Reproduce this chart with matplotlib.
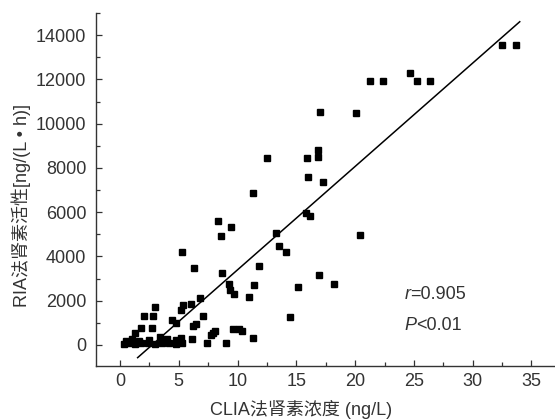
import numpy as np
import matplotlib.pyplot as plt
from matplotlib.ticker import MultipleLocator

plt.rcParams['font.family'] = ['Liberation Sans', 'Noto Sans CJK SC', 'DejaVu Sans']

# CLIA renin concentration (ng/L) vs RIA renin activity (ng/(L*h))
clia = [0.3, 0.8, 1.3, 1.8, 2.4, 3.0, 3.6, 4.2, 4.8, 5.3,
        0.5, 1.0, 1.6, 2.5, 3.4, 4.0, 4.8,
        1.3, 1.8, 2.7,
        2.0, 2.8, 3.0,
        4.4, 4.8, 5.2, 5.4, 6.0, 6.8, 7.1,
        6.2, 6.5, 6.1, 5.2,
        7.4, 7.7, 8.1, 7.9, 9.0, 9.6, 10.1, 10.4, 11.3,
        6.3, 5.3, 8.3, 9.4, 8.6, 8.7,
        9.3, 9.35, 9.7, 11.4, 11.0, 11.8,
        15.1, 14.5, 16.9, 18.2,
        11.3, 12.5, 13.3, 13.5, 14.1, 15.8, 16.2, 15.9, 16.8, 16.8,
        16.0, 17.3, 17.0, 20.1, 20.4,
        21.3, 22.4, 24.7, 25.3, 26.4, 32.5, 33.7]
ria = [50, 80, 60, 70, 90, 60, 80, 70, 60, 100,
       200, 250, 200, 230, 380, 280, 230,
       530, 750, 750,
       1300, 1300, 1700,
       1130, 980, 1580, 1800, 1850, 2100, 1330,
       850, 950, 250, 300,
       100, 430, 620, 520, 80, 700, 700, 630, 320,
       3490, 4190, 5600, 5350, 4940, 3270,
       2740, 2500, 2290, 2710, 2180, 3570,
       2600, 1250, 3160, 2750,
       6880, 8430, 5080, 4490, 4190, 5980, 5830, 8430, 8810, 8510,
       7600, 7380, 10510, 10480, 4970,
       11930, 11930, 12300, 11930, 11930, 13550, 13550]

# regression line
fit_slope = 467.0
fit_intercept = -1273.0
fit_x = [1.5, 34.0]

x_ticks = [0, 5, 10, 15, 20, 25, 30, 35]
y_ticks = [0, 2000, 4000, 6000, 8000, 10000, 12000, 14000]

fs = 13
tc = '#333333'

fig = plt.figure(figsize=(5.55, 4.19), dpi=100)
ax = fig.add_axes([0.173, 0.1265, 0.827, 0.8425])

ax.plot(clia, ria, ls='', marker='s', ms=5, color='black')
fx = np.array(fit_x)
ax.plot(fx, fit_slope * fx + fit_intercept, color='black', lw=1.1)

ax.set_xlim(-2.04, 37.0)
ax.set_ylim(-950, 15000)
ax.set_xticks(x_ticks)
ax.set_yticks(y_ticks)
ax.xaxis.set_minor_locator(MultipleLocator(2.5))
ax.yaxis.set_minor_locator(MultipleLocator(1000))

for s in ['top', 'right']:
    ax.spines[s].set_visible(False)
for s in ['left', 'bottom']:
    ax.spines[s].set_linewidth(1.0)
    ax.spines[s].set_color(tc)

ax.tick_params(which='both', direction='in', color=tc, width=0.9)
ax.tick_params(which='major', length=4, labelsize=fs, labelcolor=tc)
ax.tick_params(which='minor', length=3)
ax.tick_params(axis='x', which='major', pad=5)
ax.tick_params(axis='y', which='major', pad=7)

t = ax.text(24.2, 2260, 'r', style='italic', fontsize=fs, color=tc, va='center')
ax.annotate('=0.905', xy=(1, 0.5), xycoords=t, va='center', fontsize=fs, color=tc)
t2 = ax.text(24.2, 860, 'P', style='italic', fontsize=fs, color=tc, va='center')
ax.annotate('<0.01', xy=(1, 0.5), xycoords=t2, va='center', fontsize=fs, color=tc)

fig.text(301 / 555, 1 - 409 / 419, 'CLIA法肾素浓度 (ng/L)', ha='center', va='center',
         fontsize=fs, color=tc)
fig.text(21 / 555, 1 - 205 / 419, 'RIA法肾素活性[ng/(L • h)]', ha='center', va='center',
         rotation=90, fontsize=fs, color=tc)

fig.savefig('out.png', dpi=100)
